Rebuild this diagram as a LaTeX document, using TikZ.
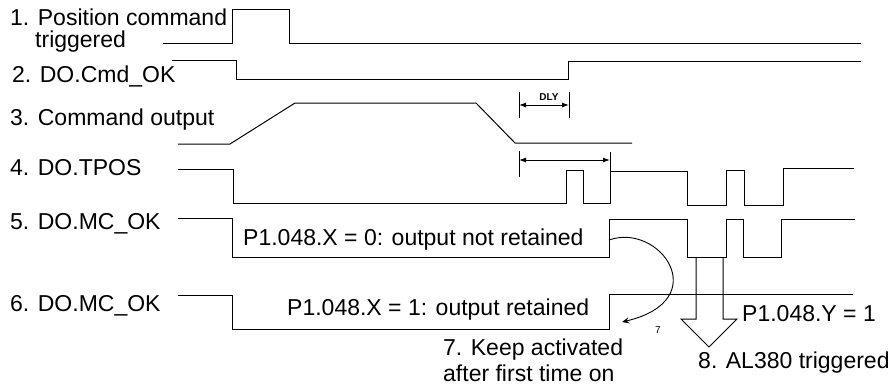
\documentclass[tikz,border=0pt]{standalone}
\usepackage{fontspec}
\setmainfont{Liberation Sans}
\usepackage{tikz}
\usetikzlibrary{arrows.meta, positioning, calc}

\begin{document}
\begin{tikzpicture}[
        x=1pt, y=-1pt,
        lbl/.style={anchor=base west, inner sep=0pt, font=\fontsize{23}{23}\selectfont},
        tiny/.style={anchor=base, inner sep=0pt, font=\fontsize{10}{10}\selectfont},
        sig/.style={line width=1pt, line join=miter},
        dim/.style={{Latex[length=7pt,width=5pt]}-{Latex[length=7pt,width=5pt]}, line width=1pt},
        tick/.style={line width=1pt},
        rel/.style={-{Stealth[length=7pt,width=6pt]}, line width=0.9pt}
    ]
        \useasboundingbox (0,0) rectangle (893,388);
        % labels on the left
        \node[lbl] (l1) at (10,25) {1. Position command};
        \node[lbl] (l1b) at (35,47) {triggered};
        \node[lbl] (l2) at (12,82) {2. DO.Cmd\_OK};
        \node[lbl] (l3) at (10,125) {3. Command output};
        \node[lbl] (l4) at (10,175) {4. DO.TPOS};
        \node[lbl] (l5) at (10,229) {5. DO.MC\_OK};
        \node[lbl] (l6) at (10,311) {6. DO.MC\_OK};
        % signals
        \draw[sig] (163,43) -- (232,43) -- (232,9) -- (289,9) -- (289,43) -- (861,43);
        \draw[sig] (172,60) -- (236,60) -- (236,79) -- (568,79) -- (568,61) -- (861,61);
        \draw[sig] (178,144) -- (230,144) -- (295,103) -- (476,103) -- (515,143) -- (632,143);
        \draw[sig] (178,169) -- (233,169) -- (233,203) -- (566,203) -- (566,170) -- (583,170)
            -- (583,203) -- (610,203) -- (610,171) -- (687,171) -- (687,205) -- (726,205)
            -- (726,170) -- (744,170) -- (744,205) -- (783,205) -- (783,168) -- (854,168);
        \draw[sig] (178,218) -- (232,218) -- (232,257) -- (609,257) -- (609,219) -- (687,219)
            -- (687,257) -- (726,257) -- (726,219) -- (743,219) -- (743,257) -- (781,257)
            -- (781,219) -- (855,219);
        \draw[sig] (178,295) -- (232,295) -- (232,329) -- (609,329) -- (609,294) -- (853,294);
        % DLY and hold time
        \coordinate (d1) at (519,105);
        \coordinate (d2) at (569,105);
        \draw[tick] (519,92) -- (519,118);
        \draw[tick] (569,92) -- (569,118);
        \draw[dim] (d1) -- (d2);
        \node[tiny, font=\fontsize{10}{10}\selectfont\bfseries] (dly) at (549,100) {DLY};
        \coordinate (h1) at (519,160);
        \coordinate (h2) at (610,160);
        \draw[tick] (519,151) -- (519,177);
        \draw[tick] (610,152) -- (610,172);
        \draw[dim] (h1) -- (h2);
        % texts inside the pulses
        \node[lbl] (x0) at (243,245) {P1.048.X = 0: output not retained};
        \node[lbl] (x1) at (287,315) {P1.048.X = 1: output retained};
        \node[lbl] (k7) at (443,355) {7. Keep activated};
        \node[lbl] (k7b) at (443,381) {after first time on};
        \node[lbl] (y1) at (742,321) {P1.048.Y = 1};
        \node[lbl] (a8) at (698,368) {8. AL380 triggered};
        \node[tiny] (n7) at (658,333) {7};
        % arrows
        \coordinate (c0) at (609,240);
        \coordinate (c1) at (622,322);
        \draw[rel] (c0) .. controls (660,222) and (715,300) .. (c1);
        \draw[sig] (696,257) -- (696,319) -- (681,319) -- (709,347) -- (737,319) -- (723,319) -- (723,257);
    \end{tikzpicture}
\end{document}
